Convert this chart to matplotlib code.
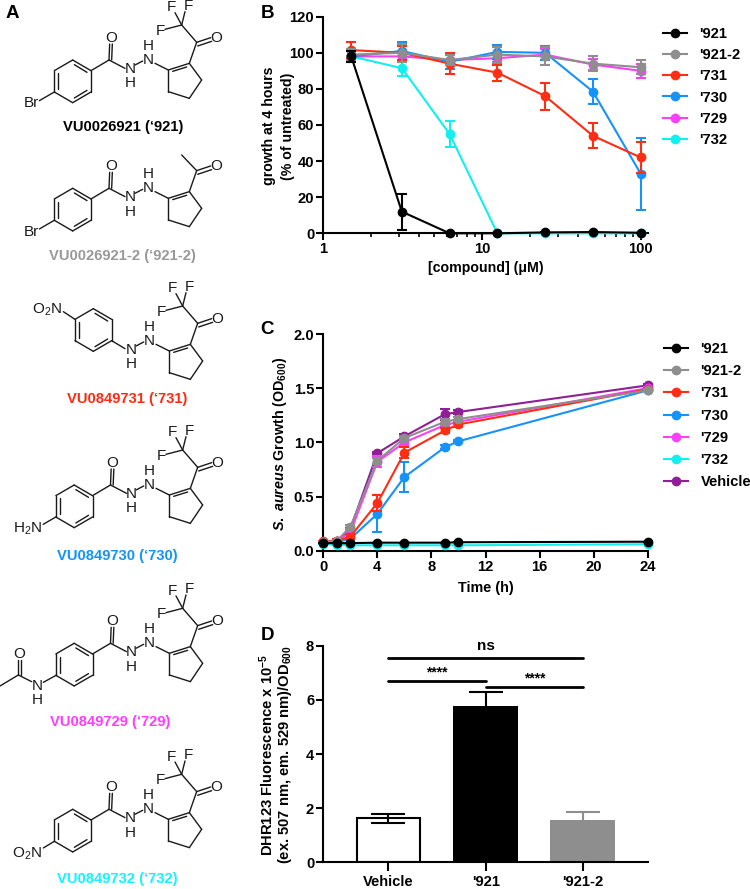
import numpy as np
import matplotlib
matplotlib.use("Agg")
import matplotlib.pyplot as plt
from matplotlib.ticker import FixedLocator, FixedFormatter, NullFormatter

plt.rcParams['font.family'] = ['Liberation Sans', 'DejaVu Sans']
plt.rcParams['mathtext.fontset'] = 'custom'
plt.rcParams['mathtext.rm'] = 'Liberation Sans:bold'
plt.rcParams['mathtext.bf'] = 'Liberation Sans:bold'
plt.rcParams['mathtext.it'] = 'Liberation Sans:italic:bold'
plt.rcParams['mathtext.default'] = 'rm'

W, H = 750, 889
BLACK = '#000000'; GRAY = '#8e8e8e'; RED = '#fe2d13'; BLUE = '#1692fb'
MAG = '#fb40fb'; CYAN = '#11f0f0'; PURPLE = '#8f1f94'

# ---------- Panel B ----------
conc = [1.5, 3.125, 6.25, 12.5, 25, 50, 100]
b_names = ["'921", "'921-2", "'731", "'730", "'729", "'732"]
b_colors = [BLACK, GRAY, RED, BLUE, MAG, CYAN]
b_921 = [98, 12, 0, 0, 0.5, 0.7, 0.3]
b_921e = [3, 10, 0, 0, 0, 0, 0]
b_9212 = [99, 100, 96, 99, 98, 94, 92]
b_9212e = [3, 5, 3, 4, 5, 4, 4]
b_731 = [101.5, 100, 94, 89, 76, 54, 42]
b_731e = [4.5, 4, 6, 4.5, 7.5, 7, 8.5]
b_730 = [98, 101, 95, 100.5, 100, 78.5, 33]
b_730e = [3, 5, 4, 4, 4, 7, 20]
b_729 = [98, 98, 96, 97, 99, 93.5, 90]
b_729e = [3, 3, 3, 3, 3, 3, 4]
b_732 = [98, 91.5, 55, 0, 0, 0, 0]
b_732e = [0, 4.5, 7, 0, 0, 0, 0]
b_vals = [b_921, b_9212, b_731, b_730, b_729, b_732]
b_errs = [b_921e, b_9212e, b_731e, b_730e, b_729e, b_732e]

# ---------- Panel C ----------
hours = [0, 1, 2, 4, 6, 9, 10, 24]
c_names = b_names + ["Vehicle"]
c_colors = b_colors + [PURPLE]
c_921 = [0.07, 0.07, 0.07, 0.074, 0.074, 0.074, 0.078, 0.083]
c_921e = [0, 0, 0, 0, 0, 0, 0, 0]
c_9212 = [0.08, 0.09, 0.22, 0.83, 1.04, 1.19, 1.215, 1.48]
c_9212e = [0, 0, 0.02, 0.03, 0.02, 0.03, 0.02, 0.01]
c_731 = [0.09, 0.09, 0.13, 0.44, 0.905, 1.11, 1.165, 1.49]
c_731e = [0, 0.02, 0.02, 0.07, 0.05, 0.02, 0.02, 0.01]
c_730 = [0.08, 0.08, 0.11, 0.34, 0.68, 0.955, 1.01, 1.48]
c_730e = [0, 0, 0.01, 0.17, 0.14, 0.02, 0.01, 0.01]
c_729 = [0.08, 0.09, 0.17, 0.82, 1.0, 1.16, 1.19, 1.5]
c_729e = [0, 0, 0.02, 0.05, 0.02, 0.02, 0.02, 0.01]
c_732 = [0.06, 0.055, 0.05, 0.05, 0.05, 0.05, 0.05, 0.06]
c_732e = [0, 0, 0, 0, 0, 0, 0, 0]
c_veh = [0.08, 0.09, 0.2, 0.90, 1.055, 1.26, 1.28, 1.526]
c_vehe = [0, 0, 0.01, 0.01, 0.02, 0.05, 0.02, 0.01]
c_vals = [c_921, c_9212, c_731, c_730, c_729, c_732, c_veh]
c_errs = [c_921e, c_9212e, c_731e, c_730e, c_729e, c_732e, c_vehe]

# ---------- Panel D ----------
d_names = ["Vehicle", "'921", "'921-2"]
d_vals = [1.62, 5.78, 1.58]
d_errs = [0.17, 0.51, 0.27]
d_sig = [("ns", 0, 2, 7.555), ("****", 0, 1, 6.7), ("****", 1, 2, 6.49)]

LW = 1.5; MS = 6.0; FS = 10.6
fig = plt.figure(figsize=(W / 100, H / 100), dpi=100, facecolor='white')


def make_axes(l, t, r, b):
    ax = fig.add_axes([l / W, 1 - b / H, (r - l) / W, (b - t) / H])
    ax.set_facecolor('none')
    for s in ('top', 'right'):
        ax.spines[s].set_visible(False)
    for s in ('left', 'bottom'):
        ax.spines[s].set_linewidth(1.5)
    ax.tick_params(which='major', length=5, width=1.5, pad=1.6, labelsize=FS)
    ax.tick_params(which='minor', length=2.6, width=1.2)
    return ax


def bold_ticks(ax):
    for lab in ax.get_xticklabels() + ax.get_yticklabels():
        lab.set_fontweight('bold')


def series(ax, x, vals, errs, names, colors, lx, ly, spacing):
    hs = []
    n = len(vals)
    for i in range(n):
        c = ax.errorbar(x, vals[i], yerr=errs[i], fmt='-o', color=colors[i], ms=MS,
                        lw=LW, elinewidth=LW, capsize=3.5, capthick=LW, clip_on=False,
                        zorder=3 + (n - i), label=names[i])
        hs.append(c[0])
    leg = ax.legend(hs, names, loc='upper left', frameon=False,
                    bbox_to_anchor=(lx / W, 1 - ly / H), bbox_transform=fig.transFigure,
                    borderpad=0, borderaxespad=0, handlelength=1.63, handletextpad=0.85,
                    labelspacing=spacing, numpoints=1,
                    prop={'weight': 'bold', 'size': FS})
    return leg


# Panel B axes
axb = make_axes(323.3, 16.7, 647.7, 233.3)
axb.set_xscale('log')
axb.set_xlim(1, 10 ** ((647.7 - 323.3) / 158.7))
axb.set_ylim(0, 120)
axb.set_yticks(range(0, 121, 20))
axb.xaxis.set_major_locator(FixedLocator([1, 10, 100]))
axb.xaxis.set_major_formatter(FixedFormatter(['1', '10', '100']))
axb.xaxis.set_minor_locator(FixedLocator([2, 3, 4, 5, 6, 7, 8, 9, 20, 30, 40, 50, 60, 70, 80, 90]))
axb.xaxis.set_minor_formatter(NullFormatter())
bold_ticks(axb)
series(axb, conc, b_vals, b_errs, b_names, b_colors, 663, 27, 0.49)
axb.set_xlabel("[compound] (μM)", fontweight='bold', fontsize=10.2)
axb.xaxis.set_label_coords(0.501, (233.3 - 267.7) / 216.6, transform=axb.transAxes)
axb.xaxis.label.set_va('center')
axb.set_ylabel("growth at 4 hours\n(% of untreated)", fontweight='bold', fontsize=10.2, linespacing=1.45)
axb.yaxis.set_label_coords((278.5 - 323.3) / 324.4, (233.3 - 126) / 216.6, transform=axb.transAxes)
axb.yaxis.label.set_va('center')

# Panel C axes
axc = make_axes(323.3, 334, 647.7, 550.7)
axc.set_xlim(0, 24)
axc.set_ylim(0, 2.0)
axc.set_xticks(range(0, 25, 4))
axc.set_yticks([0, 0.5, 1.0, 1.5, 2.0])
axc.set_yticklabels(['0.0', '0.5', '1.0', '1.5', '2.0'])
bold_ticks(axc)
series(axc, hours, c_vals, c_errs, c_names, c_colors, 664, 342, 0.56)
axc.set_xlabel("Time (h)", fontweight='bold', fontsize=10.4)
axc.xaxis.set_label_coords(0.501, (550.7 - 587.7) / 216.7, transform=axc.transAxes)
axc.xaxis.label.set_va('center')
axc.set_ylabel(r"$\mathit{S.\ aureus}$ Growth (OD$_{600}$)", fontweight='bold', fontsize=10.3)
axc.yaxis.set_label_coords((280 - 323.3) / 324.4, (550.7 - 444) / 216.7, transform=axc.transAxes)
axc.yaxis.label.set_va('center')

# Panel D axes
axd = make_axes(323.3, 645.7, 647.7, 862.3)
axd.set_xlim(-65 / 97.3, 2 + 64.7 / 97.3)
axd.set_ylim(0, 8)
axd.set_yticks([0, 2, 4, 6, 8])
xd = np.arange(len(d_names))
axd.bar(xd[0], d_vals[0], width=63 / 97.3, color='white', edgecolor=BLACK, linewidth=1.5, zorder=2)
axd.bar(xd[1], d_vals[1], width=65 / 97.3, color=BLACK, zorder=2)
axd.bar(xd[2], d_vals[2], width=65 / 97.3, color=GRAY, zorder=2)
axd.errorbar(xd[0], d_vals[0], yerr=d_errs[0], color=BLACK, elinewidth=1.5, capsize=12, capthick=1.5, zorder=3)
axd.errorbar(xd[1], d_vals[1], yerr=d_errs[1], color=BLACK, elinewidth=1.5, capsize=12, capthick=1.5, zorder=1)
axd.errorbar(xd[2], d_vals[2], yerr=d_errs[2], color=GRAY, elinewidth=1.5, capsize=12, capthick=1.5, zorder=1)
axd.set_xticks(xd)
axd.set_xticklabels(d_names)
axd.tick_params(axis='x', length=6.5, pad=3)
bold_ticks(axd)
for lab, a, b_, y in d_sig:
    axd.plot([a, b_], [y, y], color=BLACK, lw=2.0, solid_capstyle='round', clip_on=False, zorder=4)
    if lab == 'ns':
        axd.text((a + b_) / 2, y + 0.16, lab, ha='center', va='bottom', fontsize=11, fontweight='bold')
    else:
        axd.text((a + b_) / 2, y + 0.04, lab, ha='center', va='bottom', fontsize=10, fontweight='bold')
axd.set_ylabel("DHR123 Fluorescence x 10$^{-5}$\n(ex. 507 nm, em. 529 nm)/OD$_{600}$",
               fontweight='bold', fontsize=10.6, linespacing=1.0)
axd.yaxis.set_label_coords((276 - 323.3) / 324.4, (862.3 - 755) / 216.6, transform=axd.transAxes)
axd.yaxis.label.set_va('center')

# Structure layer in pixel coordinates
art = fig.add_axes([0, 0, 1, 1], zorder=0)
art.set_xlim(0, W)
art.set_ylim(H, 0)
art.axis('off')
INK = '#1a1a1a'
SLW = 1.0


def seg(p, q, dx, dy, lw=SLW):
    art.plot([p[0] / 3 + dx, q[0] / 3 + dx], [p[1] / 3 + dy, q[1] / 3 + dy], color=INK, lw=lw,
             solid_capstyle='round')


def atom(s, p, dx, dy, ha='center', fs=11):
    art.text(p[0] / 3 + dx, p[1] / 3 + dy, s, ha=ha, va='center', fontsize=fs, color=INK)


def dbl(p, q, ox, oy, dx, dy):
    seg(p, q, dx, dy)
    seg((p[0] + ox, p[1] + oy), (q[0] + ox, q[1] + oy), dx, dy)


def ring(cx, cy, dx, dy):
    # hexagon with a vertex on top; coordinates in zoomed units
    v = [(cx, cy - 64), (cx + 55, cy - 32), (cx + 55, cy + 32), (cx, cy + 64), (cx - 55, cy + 32), (cx - 55, cy - 32)]
    for i in range(6):
        seg(v[i], v[(i + 1) % 6], dx, dy)
    seg((cx + 5, cy - 50), (cx + 43, cy - 27), dx, dy)
    seg((cx + 43, cy + 27), (cx + 5, cy + 50), dx, dy)
    seg((cx - 43, cy + 24), (cx - 43, cy - 24), dx, dy)
    return v


def core(dx, dy, cf3=True):
    # hydrazine NH + cyclopentene + acyl
    atom('N', (445, 180), dx, dy); atom('H', (445, 138), dx, dy)
    atom('N', (390, 207), dx, dy); atom('H', (390, 250), dx, dy)
    seg((405, 195), (428, 183), dx, dy)
    seg((465, 190), (505, 210), dx, dy)
    c1, c2, c3, c4, c5 = (505, 210), (568, 190), (605, 240), (568, 295), (505, 275)
    seg(c1, c2, dx, dy); seg(c2, c3, dx, dy); seg(c3, c4, dx, dy); seg(c4, c5, dx, dy); seg(c5, c1, dx, dy)
    seg((518, 214), (560, 201), dx, dy)
    co = (590, 127)
    seg(c2, co, dx, dy)
    dbl(co, (632, 113), 3, 11, dx, dy)
    atom('O', (650, 113), dx, dy)
    if cf3:
        cf = (545, 75)
        seg(co, cf, dx, dy)
        seg(cf, (495, 88), dx, dy)
        seg(cf, (525, 38), dx, dy)
        seg(cf, (555, 35), dx, dy)
        atom('F', (482, 93), dx, dy); atom('F', (515, 22), dx, dy); atom('F', (565, 18), dx, dy)
    else:
        seg(co, (545, 80), dx, dy)


def amide(dx, dy, cx=218, cy=244):
    ring(cx, cy, dx, dy)
    c = (cx + 109, cy - 64)
    seg((cx + 55, cy - 32), c, dx, dy)
    seg(c, (375, 205), dx, dy)
    dbl(c, (c[0] + 2, cy - 112), 8, 0, dx, dy)
    atom('O', (c[0] + 6, cy - 131), dx, dy)


# 1 '921
amide(0, 0); core(0, 0)
seg((163, 276), (118, 302), 0, 0); atom('Br', (93, 310), 0, 0)
# 2 '921-2
amide(0, 128.3); core(0, 128.3, cf3=False)
seg((163, 276), (118, 302), 0, 128.3); atom('Br', (93, 310), 0, 128.3)
# 3 '731
d3x, d3y = 1, 281
core(d3x, d3y)
ring(280, 120, 0, 290)
seg((335, 152), (375, 176), 0, 290)
seg((190, 65), (225, 88), 0, 290)
art.text(185 / 3, 290 + 60 / 3, 'O$_{\\mathregular{2}}$N', ha='right', va='center', fontsize=11, color=INK,
         math_fontfamily='dejavusans')
# 4 '730
amide(1.5, 425); core(1, 425)
seg((163, 276), (125, 298), 1.5, 425)
art.text(128 / 3, 290 + 716 / 3, 'H$_{\\mathregular{2}}$N', ha='right', va='center', fontsize=11, color=INK,
         math_fontfamily='dejavusans')
# 5 '729
amide(1.5, 583.3); core(1, 583.3)
seg((170, 255), (130, 277), 0, 590)
atom('N', (112, 288), 0, 590); atom('H', (112, 330), 0, 590)
seg((95, 275), (55, 255), 0, 590)
dbl((55, 255), (55, 210), 7, 0, 0, 590)
atom('O', (57, 192), 0, 590)
seg((55, 255), (0, 288), 0, 590)
# 6 '732
amide(0, 749.3); core(0, 749.3)
seg((163, 276), (130, 296), 0, 749.3)
art.text(125 / 3, 590 + 790 / 3, 'O$_{\\mathregular{2}}$N', ha='right', va='center', fontsize=11, color=INK,
         math_fontfamily='dejavusans')

# Compound captions
cap_text = ["VU0026921 (‘921)", "VU0026921-2 (‘921-2)", "VU0849731 (‘731)",
            "VU0849730 (‘730)", "VU0849729 (‘729)", "VU0849732 (‘732)"]
cap_x = [123, 122.5, 127.5, 117.8, 110, 117]
cap_y = [127, 256, 399, 556, 721.7, 879]
cap_c = ['#000000', '#999999', '#ff2a12', '#0f94ff', '#ff3cff', '#12f5ff']
for t, x, y, c in zip(cap_text, cap_x, cap_y, cap_c):
    art.text(x, y, t, ha='center', va='center', fontsize=10.6, fontweight='bold', color=c)

# Panel letters
for t, x, y in [('A', 12, 13), ('B', 267, 13), ('C', 267, 330), ('D', 267, 636)]:
    art.text(x, y, t, ha='center', va='center', fontsize=13.5, fontweight='bold', color='black')

fig.savefig('out.png', dpi=100, facecolor='white')
